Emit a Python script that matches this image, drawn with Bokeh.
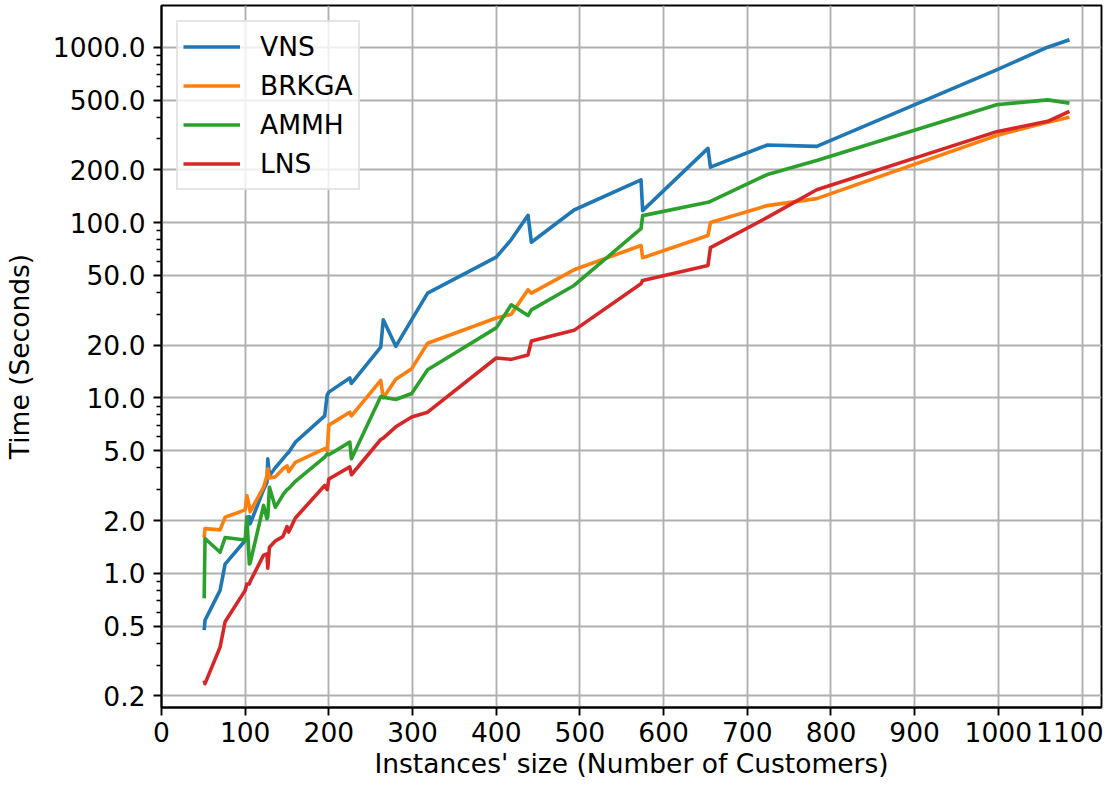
from bokeh.plotting import figure
from bokeh.models import Range1d, FixedTicker, PrintfTickFormatter, Legend, LegendItem
from bokeh.embed import file_html
from bokeh.resources import INLINE

sizes = [51, 52, 70, 76, 100, 102, 105, 106, 122, 126, 127, 129, 136, 145, 150, 152, 160,
         195, 198, 200, 225, 227, 262, 265, 280, 299, 318, 400, 418, 438, 442, 493,
         573, 575, 653, 656, 724, 783, 998, 1059, 1085]

vns = [0.475, 0.54, 0.80, 1.13, 1.54, 1.80, 2.10, 1.92, 3.00, 3.30, 4.50, 3.60, 4.00, 4.50,
       4.80, 4.90, 5.60, 7.90, 10.4, 10.8, 13.0, 12.1, 19.5, 27.9, 19.7, 28.0, 39.6, 63.5,
       80.0, 110, 77.3, 118, 175, 117, 265, 207, 277, 272, 743, 1000, 1102]
brkga = [1.60, 1.80, 1.77, 2.09, 2.30, 2.78, 2.40, 2.25, 3.10, 3.60, 3.95, 3.50, 3.55, 3.94,
         4.10, 3.80, 4.30, 5.15, 5.00, 7.00, 8.30, 7.90, 12.6, 10.0, 12.8, 14.7, 20.5, 28.6,
         30.0, 41.4, 39.6, 53.8, 74.0, 63.0, 84.4, 100, 125, 137, 314, 373, 399]
ammh = [0.72, 1.58, 1.32, 1.60, 1.55, 2.10, 1.13, 1.15, 2.44, 2.05, 2.10, 3.10, 2.38, 2.80,
        3.00, 3.05, 3.35, 4.60, 4.80, 4.75, 5.60, 4.50, 10.2, 10.1, 9.80, 10.6, 14.5, 25.1,
        34.0, 29.5, 31.8, 43.8, 92.3, 109.6, 130.6, 132, 188, 226, 470, 501, 480]
lns = [0.245, 0.235, 0.38, 0.53, 0.80, 0.87, 0.87, 0.90, 1.27, 1.29, 1.07, 1.41, 1.53, 1.62,
       1.85, 1.72, 2.07, 3.17, 3.00, 3.45, 4.05, 3.65, 5.80, 5.90, 6.85, 7.80, 8.30, 16.9,
       16.6, 17.6, 21.1, 24.3, 44.8, 46.8, 56.9, 72.0, 107, 154, 330, 378, 431]

series_names = ["VNS", "BRKGA", "AMMH", "LNS"]
series_values = [vns, brkga, ammh, lns]
series_colors = ["#1f77b4", "#ff7f0e", "#2ca02c", "#d62728"]

x_ticks = [0, 100, 200, 300, 400, 500, 600, 700, 800, 900, 1000, 1100]
y_ticks = [0.2, 0.5, 1, 2, 5, 10, 20, 50, 100, 200, 500, 1000]
minor_mult = [3, 4, 6, 7, 8, 9]
decades = [0.1, 1, 10, 100, 1000]
y_minor = [m * d for d in decades for m in minor_mult]

FONT = "DejaVu Sans"
FS = "26.5px"

p = figure(width=1103, height=783, output_backend="svg", toolbar_location=None,
           y_axis_type="log",
           x_range=Range1d(0, 1123.3), y_range=Range1d(0.1719, 1729),
           min_border_left=158, min_border_right=2, min_border_top=5, min_border_bottom=76)

p.background_fill_color = "white"
p.border_fill_color = "white"
p.outline_line_color = "black"
p.outline_line_width = 1.9

renderers = []
for name, vals, col in zip(series_names, series_values, series_colors):
    r = p.line(sizes, vals, line_color=col, line_width=3.6, line_join="round", line_cap="butt")
    renderers.append((name, r))

p.xaxis.ticker = FixedTicker(ticks=x_ticks)
p.yaxis.ticker = FixedTicker(ticks=y_ticks, minor_ticks=y_minor)
p.yaxis.formatter = PrintfTickFormatter(format="%.1f")

for ax in (p.xaxis[0], p.yaxis[0]):
    ax.axis_line_color = "black"
    ax.axis_line_width = 1.9
    ax.major_tick_line_color = "black"
    ax.major_tick_line_width = 1.9
    ax.major_tick_out = 8
    ax.major_tick_in = 0
    ax.major_label_text_font = FONT
    ax.major_label_text_font_size = FS
    ax.major_label_text_color = "black"
    ax.axis_label_text_font = FONT
    ax.axis_label_text_font_size = FS
    ax.axis_label_text_font_style = "normal"
    ax.axis_label_text_color = "black"

p.xaxis.minor_tick_line_color = None
p.yaxis.minor_tick_line_color = "black"
p.yaxis.minor_tick_line_width = 1.4
p.yaxis.minor_tick_out = 5
p.yaxis.minor_tick_in = 0

p.xaxis.axis_label = "Instances' size (Number of Customers)"
p.yaxis.axis_label = "Time (Seconds)"
p.xaxis.major_label_standoff = 6
p.xaxis.axis_label_standoff = 3
p.yaxis.major_label_standoff = 8
p.yaxis.axis_label_standoff = 15

p.xgrid.grid_line_color = "#b0b0b0"
p.ygrid.grid_line_color = "#b0b0b0"
p.xgrid.grid_line_width = 1.9
p.ygrid.grid_line_width = 1.9

legend = Legend(items=[LegendItem(label=n, renderers=[r]) for n, r in renderers],
                location="top_left", margin=15, padding=5, spacing=0,
                label_height=39, glyph_height=39, glyph_width=57, label_standoff=20,
                label_text_font=FONT, label_text_font_size=FS, label_text_color="black",
                border_line_color="#cccccc", border_line_width=2,
                background_fill_color="white", background_fill_alpha=0.8)
p.add_layout(legend, "center")

open("out.html", "w").write(file_html(p, INLINE))
